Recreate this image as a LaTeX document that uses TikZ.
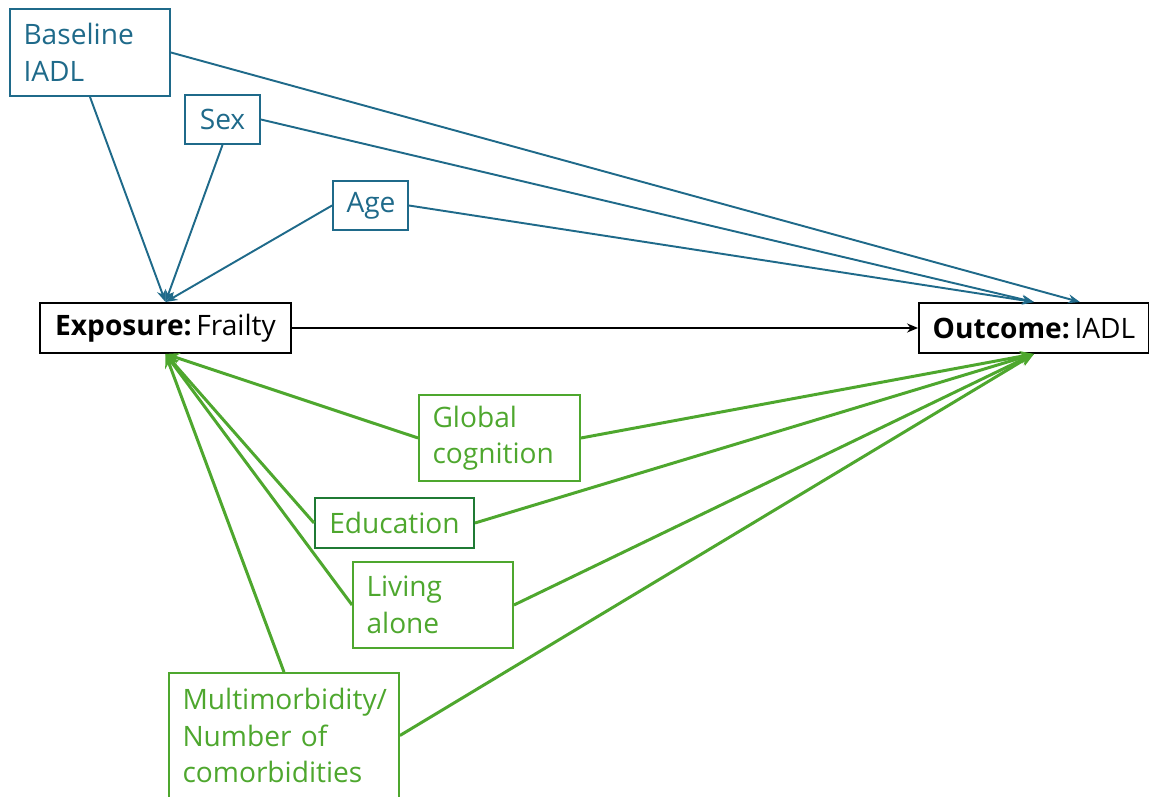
\documentclass[tikz,border=0pt]{standalone}
\usepackage{fontspec}
\setmainfont{Open Sans}
\usetikzlibrary{arrows.meta}

\definecolor{confblue}{HTML}{1F6A8A}
\definecolor{medgreen}{HTML}{4EA72E}
\definecolor{darkgreen}{HTML}{1F7A34}

\begin{document}
\begin{tikzpicture}[x=0.02cm,y=-0.02cm,
    box/.style={rectangle,line width=1.1pt,inner xsep=0.27cm,inner ysep=0pt,
      font=\fontsize{16}{20.8}\selectfont},
    conf/.style={box,draw=confblue,text=confblue},
    cov/.style={box,draw=medgreen,text=medgreen},
    blueline/.style={draw=confblue,line width=1.1pt,-{Stealth[length=0.24cm,width=0.18cm]}},
    greenline/.style={draw=medgreen,line width=1.7pt,-{Stealth[length=0.28cm,width=0.22cm]}}]

      \useasboundingbox (0,0) rectangle (1149,797);

      % confounders
      \node[conf,text width=2.66cm,align=left,minimum height=1.74cm] (base) at (90,52.5){Baseline\\IADL};
      \node[conf,text width=0.96cm,align=center,minimum height=0.98cm] (sex) at (222.5,119.5){Sex};
      \node[conf,text width=0.96cm,align=center,minimum height=0.98cm] (age) at (370.5,205.5){Age};

      % exposure and outcome
      \node[box,draw=black,text width=4.48cm,align=center,minimum height=1cm] (exp) at (165.5,328){\textbf{Exposure:}\,Frailty};
      \node[box,draw=black,text width=4.06cm,align=center,minimum height=1cm] (out) at (1034,328){\textbf{Outcome:}\,IADL};

      % other covariates
      \node[cov,text width=2.68cm,align=left,minimum height=1.72cm] (cog) at (499.5,438){Global\\cognition};
      \node[cov,draw=darkgreen,text width=2.64cm,align=center,minimum height=1cm] (edu) at (394.5,523){Education};
      \node[cov,text width=2.66cm,align=left,minimum height=1.72cm] (alone) at (433,605){Living\\alone};
      \node[cov,text width=4.06cm,align=left,minimum height=2.5cm] (multi) at (284,735.5){Multimorbidity/\\Number of\\comorbidities};

      \draw[blueline] (base.south) -- (exp.north);
      \draw[blueline] (sex.south) -- (exp.north);
      \draw[blueline] (age.west) -- (exp.north);
      \draw[blueline] (base.east) -- ([xshift=0.92cm]out.north);
      \draw[blueline] (sex.east) -- (out.north);
      \draw[blueline] (age.east) -- (out.north);

      \draw[line width=1.3pt,-{Stealth[length=0.22cm,width=0.18cm]}] (exp) -- (out);

      \draw[greenline] (cog.west) -- (exp.south);
      \draw[greenline] (edu.west) -- (exp.south);
      \draw[greenline] (alone.west) -- (exp.south);
      \draw[greenline] (multi.north) -- (exp.south);
      \draw[greenline] (cog.east) -- (out.south);
      \draw[greenline] (edu.east) -- (out.south);
      \draw[greenline] (alone.east) -- (out.south);
      \draw[greenline] (multi.east) -- (out.south);

    \end{tikzpicture}
\end{document}
